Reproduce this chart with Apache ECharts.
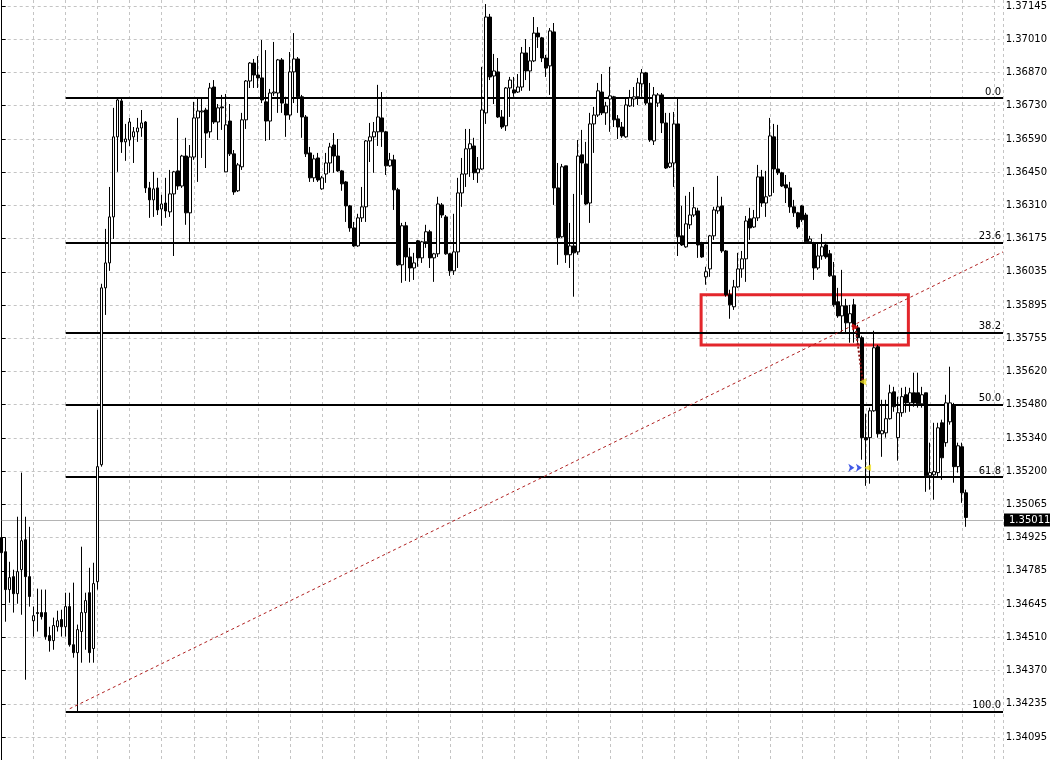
<!DOCTYPE html>
<html><head><meta charset="utf-8">
<script src="https://cdn.jsdelivr.net/npm/echarts@6/dist/echarts.min.js"></script>
<style>html,body{margin:0;padding:0;background:#fff}#c{width:1050px;height:760px}</style>
</head><body><div id="c"></div><script>
const opens=[1.34927,1.34868,1.34710,1.34764,1.34693,1.34793,1.34918,1.34764,1.34580,1.34614,1.34614,1.34614,1.34518,1.34497,1.34555,1.34585,1.34555,1.34639,1.34480,1.34447,1.34535,1.34614,1.34697,1.34464,1.34743,1.35231,1.35969,1.36073,1.36265,1.36599,1.36749,1.36578,1.36586,1.36599,1.36620,1.36636,1.36661,1.36386,1.36336,1.36386,1.36298,1.36323,1.36286,1.36361,1.36457,1.36394,1.36519,1.36282,1.36515,1.36678,1.36703,1.36711,1.36620,1.36807,1.36661,1.36724,1.36453,1.36665,1.36528,1.36374,1.36474,1.36670,1.36832,1.36907,1.36857,1.36845,1.36745,1.36665,1.36782,1.36782,1.36920,1.36736,1.36690,1.36870,1.36924,1.36766,1.36682,1.36532,1.36428,1.36511,1.36382,1.36444,1.36490,1.36565,1.36519,1.36457,1.36411,1.36311,1.36219,1.36144,1.36261,1.36307,1.36582,1.36599,1.36620,1.36678,1.36620,1.36478,1.36503,1.36378,1.36065,1.36228,1.36098,1.36052,1.36165,1.36094,1.36161,1.36203,1.36094,1.36111,1.36315,1.36265,1.36111,1.36040,1.36119,1.36365,1.36444,1.36549,1.36561,1.36449,1.36465,1.36699,1.37099,1.36853,1.36870,1.36682,1.36645,1.36803,1.36795,1.36786,1.36807,1.36949,1.36874,1.36916,1.37032,1.37012,1.36928,1.36895,1.37037,1.36386,1.36182,1.36478,1.36107,1.36144,1.36119,1.36524,1.36486,1.36323,1.36653,1.36690,1.36786,1.36699,1.36757,1.36766,1.36674,1.36640,1.36599,1.36728,1.36757,1.36766,1.36820,1.36866,1.36740,1.36582,1.36740,1.36774,1.36657,1.36474,1.36490,1.36653,1.36186,1.36140,1.36232,1.36273,1.36290,1.36157,1.36015,1.36048,1.36186,1.36290,1.36311,1.36123,1.35940,1.35890,1.35973,1.36048,1.36090,1.36257,1.36223,1.36261,1.36432,1.36323,1.36353,1.36599,1.36465,1.36449,1.36399,1.36386,1.36307,1.36282,1.36311,1.36273,1.36161,1.36157,1.36052,1.36102,1.36148,1.36111,1.36019,1.35911,1.35852,1.35894,1.35823,1.35898,1.35802,1.35761,1.35344,1.35344,1.35456,1.35723,1.35360,1.35364,1.35423,1.35535,1.35344,1.35448,1.35523,1.35489,1.35531,1.35531,1.35485,1.35531,1.35185,1.35189,1.35198,1.35406,1.35323,1.35410,1.35481,1.35223,1.35306,1.35114];
const closes=[1.34864,1.34710,1.34760,1.34693,1.34785,1.34914,1.34764,1.34681,1.34601,1.34610,1.34597,1.34514,1.34497,1.34560,1.34580,1.34555,1.34639,1.34480,1.34447,1.34543,1.34614,1.34664,1.34447,1.34735,1.35223,1.35969,1.36073,1.36265,1.36599,1.36753,1.36578,1.36590,1.36661,1.36620,1.36636,1.36657,1.36386,1.36336,1.36382,1.36294,1.36319,1.36290,1.36361,1.36453,1.36394,1.36519,1.36282,1.36515,1.36678,1.36707,1.36707,1.36615,1.36803,1.36661,1.36720,1.36720,1.36649,1.36528,1.36369,1.36482,1.36670,1.36832,1.36907,1.36857,1.36845,1.36753,1.36665,1.36782,1.36786,1.36920,1.36740,1.36690,1.36870,1.36924,1.36766,1.36682,1.36528,1.36428,1.36507,1.36419,1.36428,1.36490,1.36557,1.36519,1.36457,1.36403,1.36311,1.36219,1.36144,1.36261,1.36307,1.36582,1.36599,1.36620,1.36682,1.36620,1.36478,1.36503,1.36378,1.36065,1.36228,1.36098,1.36052,1.36073,1.36094,1.36161,1.36203,1.36094,1.36111,1.36319,1.36273,1.36111,1.36040,1.36119,1.36365,1.36444,1.36549,1.36570,1.36449,1.36465,1.36711,1.37099,1.36849,1.36874,1.36682,1.36640,1.36803,1.36836,1.36782,1.36807,1.36949,1.36874,1.36916,1.37032,1.37016,1.36928,1.36886,1.37041,1.36386,1.36178,1.36474,1.36107,1.36144,1.36115,1.36519,1.36490,1.36319,1.36653,1.36690,1.36791,1.36699,1.36728,1.36770,1.36670,1.36640,1.36603,1.36732,1.36761,1.36766,1.36824,1.36866,1.36740,1.36586,1.36774,1.36774,1.36657,1.36469,1.36490,1.36653,1.36182,1.36148,1.36236,1.36273,1.36303,1.36148,1.36098,1.36036,1.36186,1.36294,1.36307,1.36123,1.35940,1.35898,1.35973,1.36048,1.36090,1.36248,1.36219,1.36261,1.36432,1.36323,1.36349,1.36603,1.36465,1.36449,1.36394,1.36386,1.36307,1.36282,1.36223,1.36253,1.36161,1.36173,1.36052,1.36102,1.36140,1.36098,1.36019,1.35898,1.35852,1.35894,1.35823,1.35861,1.35806,1.35761,1.35344,1.35335,1.35456,1.35719,1.35360,1.35373,1.35423,1.35531,1.35473,1.35448,1.35515,1.35489,1.35531,1.35489,1.35485,1.35523,1.35185,1.35198,1.35202,1.35385,1.35260,1.35489,1.35489,1.35223,1.35310,1.35114,1.35011];
const lows=[1.34814,1.34576,1.34655,1.34614,1.34651,1.34605,1.34334,1.34639,1.34514,1.34535,1.34585,1.34501,1.34451,1.34459,1.34535,1.34514,1.34514,1.34472,1.34426,1.34201,1.34405,1.34459,1.34405,1.34405,1.34710,1.35223,1.35856,1.36040,1.36173,1.36453,1.36532,1.36499,1.36561,1.36490,1.36578,1.36599,1.36365,1.36261,1.36265,1.36273,1.36228,1.36261,1.36265,1.36102,1.36378,1.36386,1.36232,1.36161,1.36503,1.36411,1.36511,1.36469,1.36595,1.36653,1.36586,1.36628,1.36453,1.36519,1.36357,1.36369,1.36461,1.36632,1.36803,1.36803,1.36803,1.36740,1.36582,1.36586,1.36770,1.36699,1.36699,1.36599,1.36670,1.36740,1.36699,1.36595,1.36515,1.36411,1.36411,1.36411,1.36378,1.36407,1.36449,1.36449,1.36453,1.36374,1.36244,1.36203,1.36140,1.36140,1.36244,1.36244,1.36494,1.36449,1.36561,1.36557,1.36440,1.36474,1.36294,1.36061,1.35990,1.35998,1.35994,1.36002,1.36057,1.36073,1.36136,1.36052,1.35994,1.36098,1.36261,1.36107,1.36019,1.36023,1.36052,1.36307,1.36390,1.36432,1.36419,1.36407,1.36461,1.36653,1.36836,1.36736,1.36678,1.36632,1.36624,1.36682,1.36766,1.36782,1.36791,1.36836,1.36791,1.36911,1.36970,1.36911,1.36849,1.36774,1.36315,1.36065,1.36178,1.36073,1.36052,1.35932,1.36107,1.36357,1.36315,1.36240,1.36532,1.36682,1.36690,1.36649,1.36620,1.36640,1.36590,1.36595,1.36595,1.36724,1.36724,1.36732,1.36766,1.36732,1.36578,1.36565,1.36724,1.36615,1.36465,1.36469,1.36390,1.36102,1.36144,1.36136,1.36215,1.36265,1.36094,1.36094,1.35982,1.36015,1.36169,1.36278,1.36115,1.35932,1.35840,1.35877,1.35969,1.36011,1.35994,1.36169,1.36219,1.36248,1.36307,1.36265,1.36349,1.36365,1.36440,1.36390,1.36323,1.36282,1.36265,1.36215,1.36244,1.36157,1.36153,1.36002,1.36044,1.36086,1.36090,1.36015,1.35890,1.35844,1.35781,1.35777,1.35740,1.35740,1.35740,1.35252,1.35143,1.35152,1.35452,1.35344,1.35264,1.35344,1.35419,1.35452,1.35248,1.35431,1.35448,1.35452,1.35473,1.35469,1.35469,1.35118,1.35127,1.35085,1.35181,1.35168,1.35306,1.35398,1.35156,1.35198,1.35072,1.34972];
const highs=[1.34972,1.34927,1.34826,1.34793,1.35014,1.35198,1.35014,1.34972,1.34639,1.34714,1.34710,1.34710,1.34555,1.34593,1.34622,1.34626,1.34697,1.34697,1.34739,1.34564,1.34889,1.34697,1.34801,1.34822,1.35460,1.35986,1.36215,1.36390,1.36720,1.36761,1.36761,1.36653,1.36678,1.36640,1.36678,1.36711,1.36665,1.36411,1.36453,1.36428,1.36357,1.36428,1.36461,1.36457,1.36678,1.36524,1.36595,1.36565,1.36745,1.36761,1.36761,1.36720,1.36824,1.36836,1.36736,1.36774,1.36778,1.36736,1.36544,1.36490,1.36699,1.36836,1.36911,1.36924,1.36936,1.37003,1.36961,1.36799,1.36995,1.36924,1.36928,1.36766,1.36953,1.37032,1.36932,1.36774,1.36690,1.36557,1.36524,1.36532,1.36436,1.36532,1.36574,1.36615,1.36590,1.36461,1.36415,1.36315,1.36244,1.36278,1.36390,1.36586,1.36657,1.36661,1.36816,1.36786,1.36624,1.36532,1.36524,1.36386,1.36240,1.36244,1.36136,1.36115,1.36169,1.36165,1.36232,1.36211,1.36115,1.36349,1.36323,1.36273,1.36115,1.36278,1.36428,1.36511,1.36632,1.36632,1.36595,1.36515,1.36891,1.37153,1.37112,1.36945,1.36928,1.36711,1.36807,1.36849,1.36849,1.36861,1.36974,1.37007,1.36974,1.37099,1.37057,1.37016,1.36941,1.37053,1.37074,1.36490,1.36486,1.36478,1.36240,1.36361,1.36586,1.36628,1.36578,1.36699,1.36724,1.36824,1.36861,1.36745,1.36891,1.36770,1.36690,1.36661,1.36757,1.36795,1.36807,1.36845,1.36882,1.36870,1.36824,1.36807,1.36782,1.36782,1.36699,1.36699,1.36703,1.36761,1.36311,1.36353,1.36369,1.36390,1.36303,1.36161,1.36057,1.36190,1.36307,1.36436,1.36349,1.36127,1.35961,1.36002,1.36115,1.36123,1.36269,1.36303,1.36294,1.36482,1.36461,1.36457,1.36678,1.36653,1.36649,1.36453,1.36440,1.36411,1.36336,1.36286,1.36315,1.36282,1.36186,1.36161,1.36157,1.36194,1.36161,1.36127,1.36077,1.35969,1.36044,1.35923,1.35898,1.35923,1.35815,1.35769,1.35444,1.35469,1.35790,1.35731,1.35502,1.35502,1.35565,1.35556,1.35515,1.35552,1.35556,1.35552,1.35615,1.35615,1.35556,1.35531,1.35323,1.35406,1.35406,1.35419,1.35523,1.35640,1.35489,1.35323,1.35323,1.35127];
const yTickLabels=['1.34095','1.34235','1.34370','1.34510','1.34645','1.34785','1.34925','1.35065','1.35200','1.35340','1.35480','1.35620','1.35755','1.35895','1.36035','1.36175','1.36310','1.36450','1.36590','1.36730','1.36870','1.37010','1.37145'];
const lastPrice=1.35011;
const fibHigh=1.36761, fibLow=1.34201, fibStartBar=16;
const fibRatios=[0,23.6,38.2,50,61.8,100];
const trendFrom=[17,1.34213], trendTo=[250.25,1.36119];
const zoneFrom=[174.8,1.35940], zoneTo=[226.6,1.35731];
const redArrows=[[213.4,1.35806]];
const yellowArrows=[[215.2,1.35577],[216.4,1.35218]];
const blueArrows=[[213.1,1.35218],[215.0,1.35218]];

const XMAX=250.25, YMIN=1.33999, YMAX=1.37170;
const FONT='DejaVu Sans';
const candles=opens.map((o,i)=>[i,o,closes[i],lows[i],highs[i]]);
const fibLines=fibRatios.map(r=>{
  const v=fibHigh-(fibHigh-fibLow)*r/100;
  return [{coord:[fibStartBar,v],label:{formatter:r.toFixed(1)}},{coord:[XMAX,v]}];
});
const chart=echarts.init(document.getElementById('c'),null,{renderer:'canvas'});
chart.setOption({
  animation:false,
  backgroundColor:'#fff',
  grid:[{left:1.7,right:47,top:0,bottom:0},{left:1.7,right:47,top:6,bottom:23}],
  xAxis:[
    {type:'value',gridIndex:0,min:0,max:XMAX,interval:8,axisLine:{show:false},axisTick:{show:false},axisLabel:{show:false},
     splitLine:{show:true,lineStyle:{color:'#c4c4c4',type:[3,3],width:1}}},
    {type:'value',gridIndex:1,min:0,max:XMAX,show:false}
  ],
  yAxis:[
    {type:'value',gridIndex:0,position:'right',min:YMIN,max:YMAX,axisLine:{show:true,lineStyle:{color:'#000',width:1}},
     axisTick:{show:false},axisLabel:{show:false},splitLine:{show:false}},
    {type:'value',gridIndex:1,position:'right',min:0,max:22,interval:1,axisLine:{show:false},
     axisTick:{show:true,inside:false,length:4,lineStyle:{color:'#000'}},
     axisLabel:{margin:6,color:'#000',fontFamily:FONT,fontSize:10,formatter:v=>yTickLabels[Math.round(v)]},
     splitLine:{show:true,lineStyle:{color:'#c4c4c4',type:[3,3],width:1}}}
  ],
  series:[
    {type:'candlestick',xAxisIndex:0,yAxisIndex:0,data:candles,encode:{x:0,y:[1,2,3,4]},barWidth:3,clip:false,z:3,
     itemStyle:{color:'#fff',color0:'#000',borderColor:'#000',borderColor0:'#000',borderWidth:1},
     markLine:{silent:true,symbol:['none','none'],z:2,
       lineStyle:{color:'#000',width:2,type:'solid'},
       label:{position:'insideEndTop',color:'#000',fontFamily:FONT,fontSize:10,distance:[2,1]},
       data:fibLines.concat([{yAxis:lastPrice,lineStyle:{color:'#b4b4b4',width:1,type:'solid'},
         label:{position:'end',formatter:'1.35011',backgroundColor:'#000',color:'#fff',fontFamily:FONT,fontSize:10,padding:[2,2,1,5],distance:1}}])}
    },
    {type:'scatter',xAxisIndex:0,yAxisIndex:0,z:10,data:redArrows,symbol:'triangle',symbolRotate:-90,symbolSize:7,
     itemStyle:{color:'#e01010'},
     markLine:{silent:true,symbol:['none','none'],label:{show:false},
       data:[
         [{coord:trendFrom},{coord:trendTo,lineStyle:{color:'#b02020',type:[3,3],width:1}}],
         [{coord:redArrows[0]},{coord:yellowArrows[0],lineStyle:{color:'#8a1010',type:[2,2],width:2}}]
       ]},
     markArea:{silent:true,itemStyle:{color:'rgba(0,0,0,0)',borderColor:'#e3262b',borderWidth:3},
       data:[[{coord:zoneFrom},{coord:zoneTo}]]}
    },
    {type:'scatter',xAxisIndex:0,yAxisIndex:0,z:11,data:yellowArrows,symbol:'triangle',symbolRotate:90,symbolSize:7,
     itemStyle:{color:'#f0e020'}},
    {type:'scatter',xAxisIndex:0,yAxisIndex:0,z:11,data:blueArrows,symbol:'arrow',symbolRotate:-90,symbolSize:6,
     itemStyle:{color:'#1030e0'}}
  ]
});
</script></body></html>
